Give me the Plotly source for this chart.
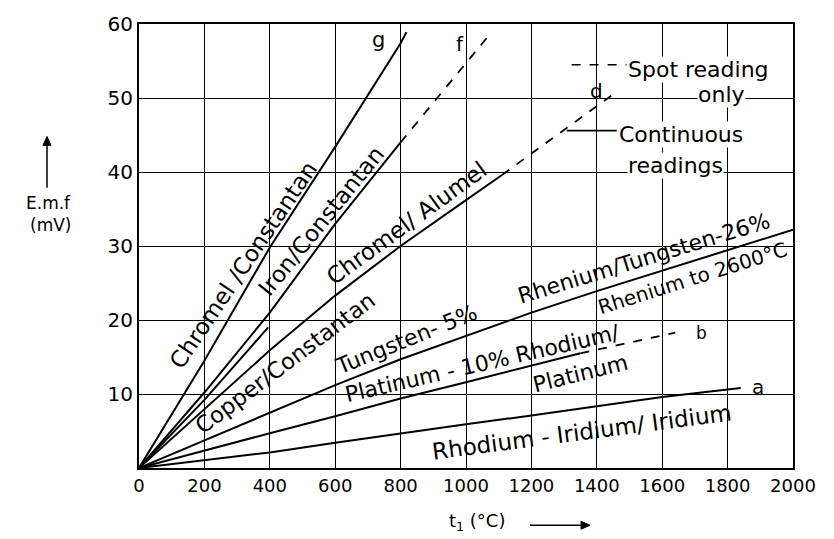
import plotly.graph_objects as go

# EMF (mV) against hot-junction temperature (°C) for each thermocouple pair.
# "_spot" arrays hold the range covered by spot readings only (dashed).

# a: Rhodium-Iridium / Iridium
rhir_t = [0, 200, 400, 600, 800, 1000, 1200, 1400, 1600, 1800, 1840]
rhir_mv = [0, 1.1, 2.1, 3.4, 4.7, 5.9, 7.1, 8.3, 9.6, 10.6, 10.8]

# b: Platinum-10% Rhodium / Platinum
ptrh_t = [0, 200, 400, 600, 800, 1000, 1200, 1350]
ptrh_mv = [0, 2.4, 4.7, 7.0, 9.4, 11.6, 13.8, 15.5]
ptrh_spot_t = [1350, 1640]
ptrh_spot_mv = [15.5, 18.3]

# c: Tungsten-5% Rhenium / Tungsten-26% Rhenium
wre_t = [0, 200, 400, 600, 800, 1000, 1200, 1400, 1600, 1800, 2000]
wre_mv = [0, 3.7, 7.5, 11.2, 14.7, 17.9, 21.0, 23.9, 26.7, 29.5, 32.2]

# Copper / Constantan
cucon_t = [0, 200, 395]
cucon_mv = [0, 9.2, 19.0]

# d: Chromel / Alumel
chal_t = [0, 200, 400, 600, 800, 1000, 1110]
chal_mv = [0, 8.0, 15.9, 23.3, 30.0, 36.2, 39.6]
chal_spot_t = [1110, 1450]
chal_spot_mv = [39.6, 50.5]

# f: Iron / Constantan
fecon_t = [0, 200, 400, 600, 800]
fecon_mv = [0, 10.2, 21.0, 33.0, 44.0]
fecon_spot_t = [800, 1080]
fecon_spot_mv = [44.0, 59.0]

# g: Chromel / Constantan
chcon_t = [0, 200, 400, 600, 800, 818]
chcon_mv = [0, 14.5, 29.8, 43.4, 57.4, 58.9]

x_ticks = [0, 200, 400, 600, 800, 1000, 1200, 1400, 1600, 1800, 2000]
x_ticktext = ["0", "200", "400", "600", "800", "1000", "1200", "1400", "1600", "1800", "2000"]
y_ticks = [10, 20, 30, 40, 50, 60]
y_ticktext = ["10", "20", "30", "40", "50", "60"]

FONT = "DejaVu Sans"
INK = "black"
LABEL = 22

# plot-area geometry in pixels, used to place the axis-title arrows
FIG_W, FIG_H = 834, 539
M_L, M_R, M_T, M_B = 139, 41, 18, 71
PLOT_W = FIG_W - M_L - M_R
PLOT_H = FIG_H - M_T - M_B

fig = go.Figure()

solid = [
    (rhir_t, rhir_mv),
    (ptrh_t, ptrh_mv),
    (wre_t, wre_mv),
    (cucon_t, cucon_mv),
    (chal_t, chal_mv),
    (fecon_t, fecon_mv),
    (chcon_t, chcon_mv),
]
dashed = [
    (ptrh_spot_t, ptrh_spot_mv),
    (chal_spot_t, chal_spot_mv),
    (fecon_spot_t, fecon_spot_mv),
]

for t, mv in solid:
    fig.add_trace(go.Scatter(x=t, y=mv, mode="lines",
                             line=dict(color=INK, width=2), hoverinfo="skip"))
for t, mv in dashed:
    fig.add_trace(go.Scatter(x=t, y=mv, mode="lines",
                             line=dict(color=INK, width=1.8, dash="dash"), hoverinfo="skip"))

def note(text, x, y, angle=0, size=LABEL, xanchor="center", bg=None, xref="x", yref="y"):
    fig.add_annotation(text=text, x=x, y=y, xref=xref, yref=yref, textangle=angle,
                       showarrow=False, xanchor=xanchor, yanchor="middle",
                       font=dict(family=FONT, size=size, color=INK),
                       bgcolor=bg, borderpad=0)

def px(x, y):
    """Convert a page pixel position to paper coordinates."""
    return (x - M_L) / PLOT_W, (FIG_H - M_B - y) / PLOT_H

def arrow(x0, y0, x1, y1, head=9, half=4):
    """Straight arrow from (x0, y0) to (x1, y1), page pixels, filled head."""
    dx, dy = x1 - x0, y1 - y0
    n = (dx * dx + dy * dy) ** 0.5
    ux, uy = dx / n, dy / n
    bx, by = x1 - ux * head, y1 - uy * head
    a = px(x0, y0)
    b = px(bx, by)
    fig.add_shape(type="line", xref="paper", yref="paper",
                  x0=a[0], y0=a[1], x1=b[0], y1=b[1],
                  line=dict(color=INK, width=1.5))
    tip = px(x1, y1)
    l = px(bx - uy * half, by + ux * half)
    r = px(bx + uy * half, by - ux * half)
    path = f"M {tip[0]},{tip[1]} L {l[0]},{l[1]} L {r[0]},{r[1]} Z"
    fig.add_shape(type="path", xref="paper", yref="paper", path=path,
                  fillcolor=INK, line=dict(color=INK, width=1))

# curve letters
note("a", 1893, 10.9, size=20)
note("b", 1721, 18.3, size=17)
note("c", 2040, 32.6, size=20)
note("d", 1400, 51.0, size=20)
note("f", 982, 57.3, size=20)
note("g", 731, 57.8, size=21)

# curve names written along the lines
note("Chromel /Constantan", 318, 27.5, angle=-56, size=23)
note("Iron/Constantan", 557, 33.4, angle=-51, size=23)
note("Chromel/ Alumel", 819, 33.1, angle=-36, size=23)
note("Copper/Constantan", 446, 14.2, angle=-37, size=22.5)
note("Tungsten- 5%", 817, 17.4, angle=-22)
note("Rhenium/Tungsten-26%", 1543, 28.3, angle=-17)
note("Rhenium to 2600°C", 1694, 25.7, angle=-17.5, size=20)
note("Platinum - 10% Rhodium/", 1049, 14.1, angle=-13)
note("Platinum", 1349, 12.8, angle=-14)
note("Rhodium - Iridium/ Iridium", 1355, 4.9, angle=-7.5, size=23)

# key for reading type
fig.add_shape(type="line", x0=1323, x1=1491, y0=54.5, y1=54.5, xref="x", yref="y",
              line=dict(color=INK, width=1.6, dash="dash"))
note("Spot reading", 1493, 53.9, xanchor="left", bg="white")
note("only", 1782, 50.5, bg="white")
fig.add_shape(type="line", x0=1308, x1=1461, y0=45.6, y1=45.6, xref="x", yref="y",
              line=dict(color=INK, width=1.8))
note("Continuous", 1466, 45.1, xanchor="left", bg="white")
note("readings", 1492, 40.9, xanchor="left", bg="white")

# axis titles with their arrows
note("E.m.f", -0.139, 0.596, xref="paper", yref="paper", size=17)
note("(mV)", -0.136, 0.547, xref="paper", yref="paper", size=17)
arrow(47, 184, 47, 132)
note("t<sub>1</sub> (°C)", 0.517, -0.122, xref="paper", yref="paper", size=18)
arrow(530, 526, 590, 526)

axis_common = dict(showgrid=True, gridcolor=INK, gridwidth=1.2, showline=True,
                   linecolor=INK, linewidth=2, mirror=True, ticks="", zeroline=False)
fig.update_xaxes(range=[0, 2000], tickvals=x_ticks, ticktext=x_ticktext,
                 tickfont=dict(family=FONT, size=18, color=INK), **axis_common)
fig.update_yaxes(range=[0, 60], tickvals=y_ticks, ticktext=y_ticktext,
                 tickfont=dict(family=FONT, size=20, color=INK), **axis_common)

fig.update_layout(width=FIG_W, height=FIG_H, margin=dict(l=M_L, r=M_R, t=M_T, b=M_B),
                  plot_bgcolor="white", paper_bgcolor="white", showlegend=False,
                  font=dict(family=FONT, color=INK))

fig.write_html("out.html")
